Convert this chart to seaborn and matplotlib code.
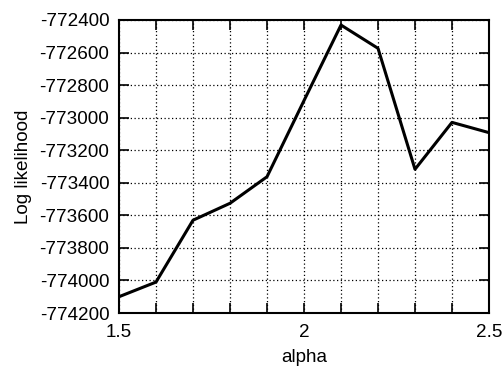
import matplotlib
matplotlib.use("Agg")
import matplotlib.pyplot as plt
import seaborn as sns
import pandas as pd
import numpy as np

# Log likelihood as a function of alpha
alpha = [1.5, 1.6, 1.7, 1.8, 1.9, 2.0, 2.1, 2.2, 2.3, 2.4, 2.5]
loglik = [-774100, -774010, -773630, -773526, -773363, -772895,
          -772431, -772574, -773317, -773029, -773092]

df = pd.DataFrame({"alpha": alpha, "Log likelihood": loglik})

sns.set_theme(style="white")
plt.rcParams["font.family"] = ["Liberation Sans", "DejaVu Sans"]

fig = plt.figure(figsize=(5.03, 3.66), dpi=100)
ax = fig.add_axes([119 / 503, 1 - 313 / 366, (489 - 119) / 503, (313 - 20) / 366])

sns.lineplot(data=df, x="alpha", y="Log likelihood", ax=ax,
             color="black", linewidth=2.2)

ax.set_xlim(1.5, 2.5)
ax.set_ylim(-774200, -772400)
ax.set_xticks([1.5, 2.0, 2.5])
ax.set_xticklabels(["1.5", "2", "2.5"])
ax.set_xticks(np.arange(1.6, 2.45, 0.1), minor=True)
yt = np.arange(-774200, -772399, 200)
ax.set_yticks(yt)
ax.set_yticklabels([str(v) for v in yt])

ax.grid(True, which="both", axis="both", color="black",
        linestyle=(0, (1, 2)), linewidth=0.9)
ax.set_axisbelow(True)

for s in ax.spines.values():
    s.set_color("black")
    s.set_linewidth(1.5)

ax.tick_params(which="both", direction="in", length=7, width=1.2,
               color="black", top=True, right=True, bottom=True, left=True,
               labelsize=13.6, labelcolor="black")
ax.tick_params(axis="y", pad=7)
ax.tick_params(axis="x", pad=8)

ax.set_xlabel("alpha", fontsize=13.6, color="black", labelpad=6)
ax.set_ylabel("Log likelihood", fontsize=13.6, color="black", labelpad=5)

fig.savefig("out.png", dpi=100)
